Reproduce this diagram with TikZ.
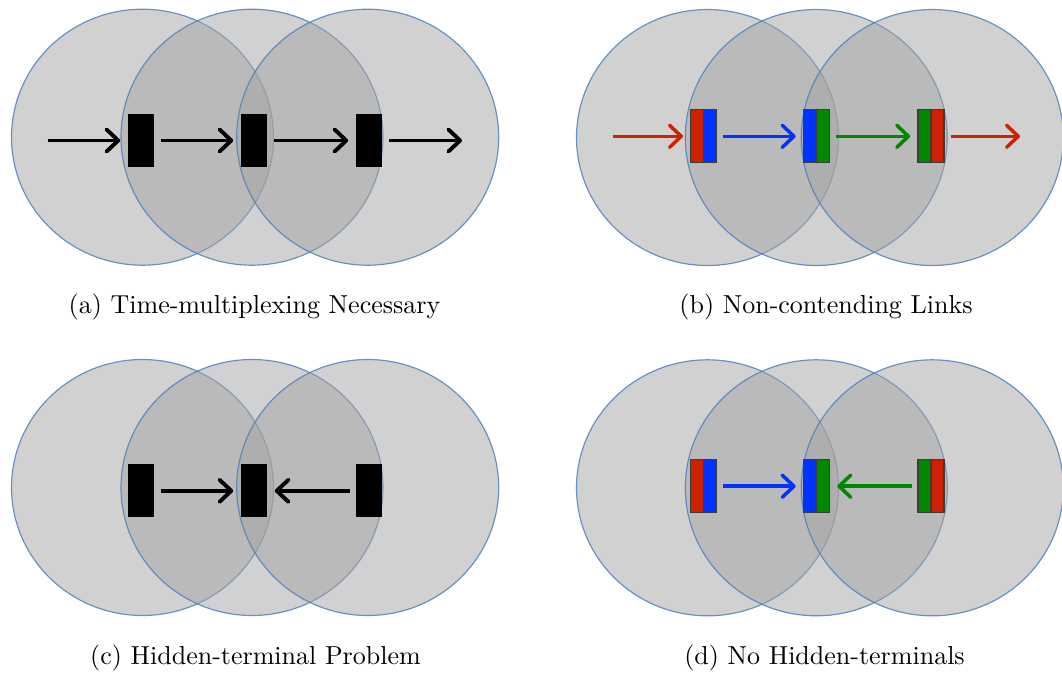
\documentclass[tikz,border=0pt]{standalone}
\usetikzlibrary{arrows.meta}
\definecolor{rangefill}{RGB}{163,163,163}
\definecolor{rangeedge}{RGB}{79,129,189}
\definecolor{linkred}{RGB}{204,34,0}
\definecolor{linkblue}{RGB}{0,51,255}
\definecolor{linkgreen}{RGB}{0,136,0}
\definecolor{stnedge}{RGB}{60,60,60}
\begin{document}
\begin{tikzpicture}[x=0.3846pt,y=-0.3846pt,
  cover/.style={fill=rangefill, fill opacity=0.5, draw=rangeedge, draw opacity=0.85, line width=0.45pt},
  stn/.style={rectangle, inner sep=0pt, minimum width=10pt, minimum height=20.4pt, fill=black},
  duo/.style 2 args={rectangle, inner sep=0pt, minimum width=10pt, minimum height=20.4pt,
    draw=stnedge, line width=0.4pt,
    path picture={
      \fill[#1] (path picture bounding box.south west) rectangle (path picture bounding box.north);
      \fill[#2] (path picture bounding box.south) rectangle (path picture bounding box.north east);
      \draw[stnedge, line width=0.4pt] (path picture bounding box.south) -- (path picture bounding box.north);}},
  link/.style={line width=1.5pt, -{Straight Barb[round,length=4.5pt,width=8.5pt]}, shorten <=2.3pt, shorten >=2.8pt},
  clink/.style={link, line width=1.35pt, draw=#1},
  subcap/.style={anchor=base, font=\fontsize{10}{12}\selectfont}
]
\useasboundingbox (0,0) rectangle (1062,673);

% transmission ranges
\foreach \cx/\cy in {142.5/137.2, 252/137.2, 367.7/137.2,
                     707.5/137.5, 816.3/137.5, 932.3/137.5,
                     142.5/487.5, 252/487.5, 367.7/487.5,
                     707.5/487.8, 816.3/487.8, 932.3/487.8}
  \draw[cover] (\cx,\cy) ellipse [x radius=131, y radius=128];

% (a) chain of single-radio nodes
\node[stn] (a1) at (141,140.5) {};
\node[stn] (a2) at (254,140.5) {};
\node[stn] (a3) at (369,140.5) {};
\coordinate (aS) at (42,140.5);
\coordinate (aE) at (469.3,140.5);
\draw[link] (aS) -- (a1);
\draw[link] (a1) -- (a2);
\draw[link] (a2) -- (a3);
\draw[link] (a3) -- (aE);
\node[subcap] (capa) at (254.5,313) {(a) Time-multiplexing Necessary};

% (b) chain of dual-radio nodes
\node[duo={linkred}{linkblue}] (b1) at (703.8,136.3) {};
\node[duo={linkblue}{linkgreen}] (b2) at (816.5,136.3) {};
\node[duo={linkgreen}{linkred}] (b3) at (931,136.3) {};
\coordinate (bS) at (606.7,136.3);
\coordinate (bE) at (1027.3,136.3);
\draw[clink=linkred] (bS) -- (b1);
\draw[clink=linkblue] (b1) -- (b2);
\draw[clink=linkgreen] (b2) -- (b3);
\draw[clink=linkred] (b3) -- (bE);
\node[subcap] (capb) at (826,313) {(b) Non-contending Links};

% (c) two senders towards one receiver
\node[stn] (c1) at (141,490.8) {};
\node[stn] (c2) at (254,490.8) {};
\node[stn] (c3) at (369,490.8) {};
\draw[link] (c1) -- (c2);
\draw[link] (c3) -- (c2);
\node[subcap] (capc) at (255.5,664) {(c) Hidden-terminal Problem};

% (d) two senders on different channels
\node[duo={linkred}{linkblue}] (d1) at (703.8,486.2) {};
\node[duo={linkblue}{linkgreen}] (d2) at (816.5,486.2) {};
\node[duo={linkgreen}{linkred}] (d3) at (931,486.2) {};
\draw[clink=linkblue] (d1) -- (d2);
\draw[clink=linkgreen] (d3) -- (d2);
\node[subcap] (capd) at (824.5,664) {(d) No Hidden-terminals};
\end{tikzpicture}
\end{document}
